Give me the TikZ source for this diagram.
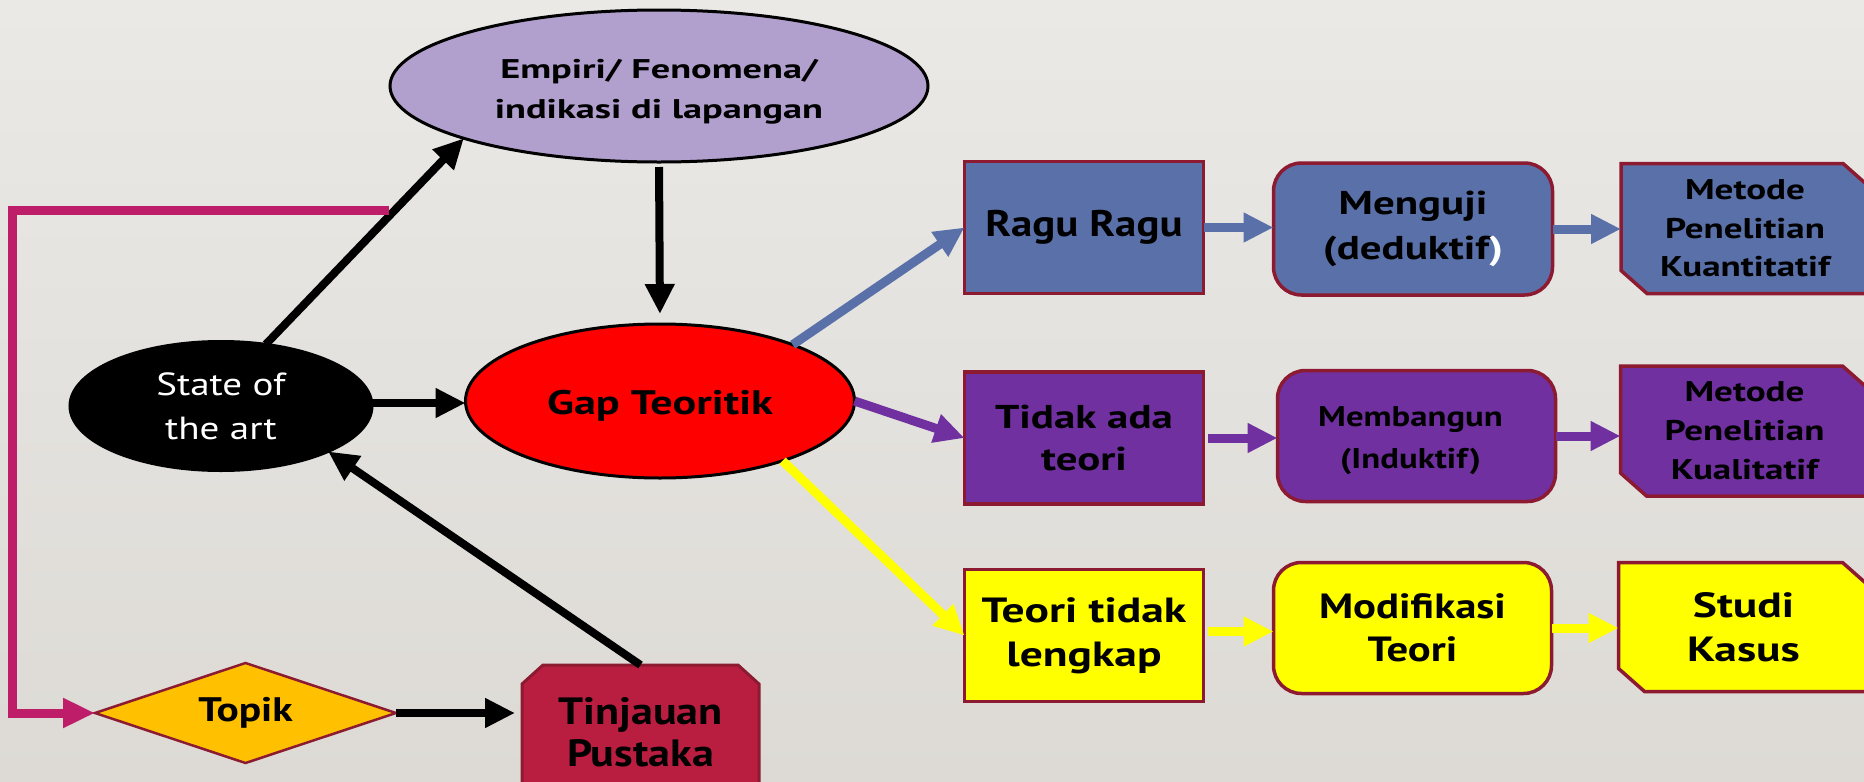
\documentclass[tikz,border=0pt]{standalone}
\usepackage{fontspec}
\setmainfont{PT Sans}
\newfontfamily\sA{PT Sans}[FakeStretch=1.16]
\newfontfamily\sB{PT Sans}[FakeStretch=1.22]
\newfontfamily\sC{PT Sans}[FakeStretch=1.3]
\newfontfamily\sD{PT Sans}[FakeStretch=1.42]
\usetikzlibrary{arrows.meta,shapes.geometric,calc}
\pgfdeclarelayer{background}
\pgfsetlayers{background,main}
\definecolor{bgtop}{RGB}{234,233,230}
\definecolor{bgbot}{RGB}{221,218,213}
\definecolor{lav}{RGB}{177,160,205}
\definecolor{bluebox}{RGB}{90,112,168}
\definecolor{purplebox}{RGB}{112,48,160}
\definecolor{yel}{RGB}{255,255,0}
\definecolor{gold}{RGB}{255,192,0}
\definecolor{crimson}{RGB}{185,30,65}
\definecolor{bord}{RGB}{140,26,48}
\definecolor{mag}{RGB}{190,30,105}
\newcommand\fs[2]{\fontsize{#1}{#2}\selectfont}
\begin{document}
\begin{tikzpicture}[x=1pt,y=-1pt,
  every node/.style={inner sep=0pt, outer sep=0pt, align=center},
  oval/.style={ellipse, draw=black, line width=3pt},
  rowbox/.style={rectangle, draw=bord, line width=3.5pt, minimum width=239pt, minimum height=132pt},
  roundbox/.style={rectangle, rounded corners=28pt, draw=bord, line width=3.5pt, minimum width=279pt, minimum height=132pt},
  snipbox/.style={rectangle, minimum width=248pt, minimum height=130pt},
  blk/.style={draw=black, line width=8pt, -{Triangle[length=30pt,width=28pt]}},
  carrow/.style={draw=#1, line width=9pt, -{Triangle[length=30pt,width=28pt]}},
  magline/.style={draw=mag, line width=9pt, line join=miter, -{Triangle[length=32pt,width=28pt]}}
]
\useasboundingbox (0,0) rectangle (1864,782);
\clip (0,0) rectangle (1864,782);
\begin{pgfonlayer}{background}
\shade[top color=bgtop, bottom color=bgbot] (0,0) rectangle (1864,782);
\end{pgfonlayer}

% left part
\node[oval, fill=lav, minimum width=538pt, minimum height=152pt] (emp) at (659,86) {};
\node[font=\sD\bfseries\fs{27}{40}] (empt) at ($(emp.center)+(0,6)$) {Empiri/ Fenomena/\\indikasi di lapangan};
\node[oval, fill=black, minimum width=302pt, minimum height=129pt, text=white, font=\sB\fs{32}{44}] (state) at (221,406) {State of\\the art};
\node[oval, fill=red, minimum width=389pt, minimum height=154pt] (gap) at (660,401) {};
\node[font=\sC\bfseries\fs{34}{40}] (gapt) at ($(gap.center)+(0,5)$) {Gap Teoritik};
\node[diamond, aspect=3, draw=bord, line width=2.5pt, fill=gold, minimum width=301pt, minimum height=100pt, font=\sB\bfseries\fs{34}{42}] (topik) at (245.5,713) {Topik};
\node[rectangle, minimum width=237pt, minimum height=134pt, font=\sA\bfseries\fs{38}{42}] (tinj) at (640.5,732) {Tinjauan\\Pustaka};

% row 1
\node[rowbox, fill=bluebox, font=\sA\bfseries\fs{37}{43}] (ragu) at (1084,227.5) {Ragu Ragu};
\node[roundbox, fill=bluebox, font=\sC\bfseries\fs{33}{45}] (menguji) at (1413,229) {Menguji\\(deduktif\textcolor{white}{)}};
\node[snipbox, font=\sC\bfseries\fs{28.5}{38.5}] (met1) at (1745,228.5) {Metode\\Penelitian\\Kuantitatif};
% row 2
\node[rowbox, fill=purplebox, font=\sC\bfseries\fs{33}{42}] (tidak) at (1084,438) {Tidak ada\\teori};
\node[roundbox, fill=purplebox, minimum width=278pt, minimum height=131pt] (memb) at (1416.5,436) {};
\node[font=\sB\bfseries\fs{28.5}{42}] (membt) at ($(memb.center)+(-6,5)$) {Membangun\\(Induktif)};
\node[snipbox, font=\sC\bfseries\fs{28.5}{39}] (met2) at (1744.5,431) {Metode\\Penelitian\\Kualitatif};
% row 3
\node[rowbox, fill=yel, font=\sC\bfseries\fs{35}{44}] (teori) at (1084,635.5) {Teori tidak\\lengkap};
\node[roundbox, fill=yel, minimum width=278pt, minimum height=131pt, font=\sB\bfseries\fs{35}{43}] (modif) at (1412.5,628) {Modifikasi\\Teori};
\node[snipbox, minimum width=250pt, minimum height=129pt, font=\sC\bfseries\fs{35}{44}] (studi) at (1743.5,627) {Studi\\Kasus};

% snipped shapes on the background layer
\begin{pgfonlayer}{background}
\foreach \n/\c/\yy in {met1/bluebox/0, met2/purplebox/2, studi/yel/0}{
  \filldraw[fill=\c, draw=bord, line width=3.5pt, line join=miter, yshift=\yy pt]
    (\n.north west) -- ($(\n.north east)+(-26,0)$) -- ($(\n.north east)+(0,23)$)
    -- (\n.south east) -- ($(\n.south west)+(26,0)$) -- ($(\n.south west)+(0,-23)$) -- cycle;
}
\filldraw[fill=crimson, draw=bord, line width=3pt, line join=miter]
  ($(tinj.north west)+(0,19)$) -- ($(tinj.north west)+(21,0)$) -- ($(tinj.north east)+(-21,0)$)
  -- ($(tinj.north east)+(0,19)$) -- (tinj.south east) -- (tinj.south west) -- cycle;
\end{pgfonlayer}

% black connectors
\draw[blk] (state.54) -- (emp.195);
\draw[blk, shorten <=5pt, shorten >=10pt] (emp.south) -- (gap.north);
\coordinate (sg) at ($(state.east)+(0,-3)$);
\draw[blk] (sg) -- (gap.west |- sg);
\draw[blk] (tinj.north) -- (state.337);
\draw[blk, shorten >=7pt] (topik.east) -- (tinj.west |- topik.east);

% magenta connector
\coordinate (mstart) at (389,210);
\coordinate (mcorner1) at (12,210);
\draw[magline] (mstart) -- (mcorner1) |- (topik.west);

% coloured connectors from Gap
\draw[carrow=bluebox] (gap.23) -- (ragu.west);
\draw[carrow=purplebox] (gap.east) -- (tidak.west);
\draw[carrow=yel] (gap.334) -- (teori.west);

% row connectors
\draw[carrow=bluebox] (ragu.east) -- (menguji.west |- ragu.east);
\draw[carrow=bluebox] (menguji.east) -- (met1.west |- menguji.east);
\draw[carrow=purplebox, shorten <=4pt] (tidak.east) -- (memb.west |- tidak.east);
\draw[carrow=purplebox] (memb.east) -- (met2.west |- memb.east);
\coordinate (tr) at ($(teori.east)+(0,-4)$);
\draw[carrow=yel, shorten <=4pt] (tr) -- (modif.west |- tr);
\draw[carrow=yel] (modif.east) -- (studi.west |- modif.east);
\end{tikzpicture}
\end{document}
